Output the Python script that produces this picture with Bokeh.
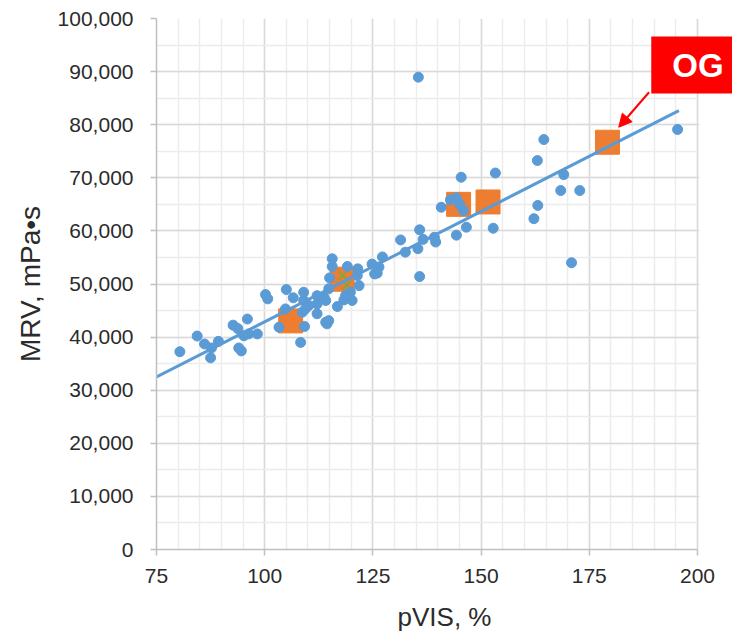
from bokeh.plotting import figure
from bokeh.models import (NumeralTickFormatter, SingleIntervalTicker, Label, Arrow,
                          NormalHead, Range1d, BoxAnnotation)
from bokeh.embed import file_html
from bokeh.resources import INLINE

# ---- data ----
pvis = [80.4, 84.4, 86.1, 87.7, 87.5, 89.3, 92.7, 93.8, 96.0, 94.0, 94.6, 95.2, 96.3, 98.3,
        100.2, 100.7, 103.3, 104.8, 105.0, 106.6, 108.3, 109.2, 109.0, 109.0, 109.4, 108.7,
        110.2, 112.1, 112.1, 112.1, 114.1, 114.8, 114.4, 114.8, 113.7, 114.1, 115.6, 115.6,
        119.1, 121.5, 115.0, 121.4, 121.8, 119.8, 120.2, 118.3, 116.8, 118.7, 124.8, 126.4,
        126.0, 125.4, 127.2, 131.4, 132.5, 135.8, 136.6, 135.4, 139.2, 139.5, 135.8, 140.8,
        142.9, 144.3, 145.1, 145.9, 144.3, 146.6, 152.8, 145.4, 153.3, 164.5, 163.0, 169.1,
        168.4, 172.8, 163.1, 162.2, 170.9, 195.4, 135.5]
mrv = [37250, 40200, 38700, 37950, 36100, 39200, 42250, 41600, 43400, 37950, 37400, 40250,
       40600, 40600, 48000, 47200, 41850, 45300, 48950, 47400, 39000, 42000, 48450, 46900,
       45300, 44700, 45950, 47800, 46250, 44400, 42800, 43100, 42500, 49100, 47500, 46900,
       54750, 53300, 53300, 52850, 51150, 51600, 49700, 48450, 46900, 47000, 45760, 47850,
       53750, 53200, 52050, 51900, 55100, 58300, 56000, 60200, 58400, 56650, 58800, 57900,
       51400, 64450, 65850, 66200, 64950, 63850, 59200, 60700, 60500, 70100, 70900, 77200,
       73250, 70600, 67600, 67600, 64800, 62300, 54000, 79100, 88950]

ref_pvis = [106.0, 117.9, 144.8, 151.6, 179.2]
ref_mrv = [43050, 50900, 65000, 65450, 76700]

x_pvis = [118.0, 119.0]
x_mrv = [51600, 49800]

trend_x = [75.0, 195.7]
trend_y = [32500, 82650]

BLUE = "#5b9bd5"
ORANGE = "#ed7d31"
GREEN = "#70ad47"
TXT = "#2b2b2b"
FONT = "Liberation Sans"

X_MIN, X_MAX = 75, 200
# frame extends past 200 (to the page edge) so the "OG" callout is not clipped
X_VIEW_MAX = X_MIN + (X_MAX - X_MIN) * 576 / 541

p = figure(frame_width=576, frame_height=531, output_backend="svg", toolbar_location=None,
           x_range=Range1d(X_MIN, X_VIEW_MAX), y_range=Range1d(0, 100000),
           min_border_left=156, min_border_right=0, min_border_top=18, min_border_bottom=82)
p.outline_line_color = None
p.background_fill_color = "white"

p.xaxis.ticker = SingleIntervalTicker(interval=25, num_minor_ticks=5)
p.yaxis.ticker = SingleIntervalTicker(interval=10000, num_minor_ticks=2)
p.yaxis.formatter = NumeralTickFormatter(format="0,0")
p.xaxis.bounds = (X_MIN, X_MAX)

for ax in (p.xaxis, p.yaxis):
    ax.axis_line_color = "#bfbfbf"
    ax.axis_line_width = 1.5
    ax.major_tick_line_color = "#bfbfbf"
    ax.major_tick_line_width = 1.5
    ax.major_tick_out = 6
    ax.major_tick_in = 0
    ax.minor_tick_line_color = None
    ax.major_label_text_font = FONT
    ax.major_label_text_font_size = "21px"
    ax.major_label_text_color = TXT
    ax.axis_label_text_font = FONT
    ax.axis_label_text_font_style = "normal"
    ax.axis_label_text_color = TXT

p.xaxis.axis_label = "pVIS, %"
p.yaxis.axis_label = "MRV, mPa•s"
p.xaxis.axis_label_text_font_size = "26px"
p.yaxis.axis_label_text_font_size = "28px"
p.xaxis.major_label_standoff = 13
p.yaxis.major_label_standoff = 17
p.xaxis.axis_label_standoff = 16
p.yaxis.axis_label_standoff = 9

for g in (p.xgrid, p.ygrid):
    g.grid_line_color = "#d9d9d9"
    g.grid_line_width = 1.5
    g.minor_grid_line_color = "#ececec"
    g.minor_grid_line_width = 1.5

# blank out the grid beyond x = 200
p.add_layout(BoxAnnotation(left=X_MAX + 0.4, fill_color="white", fill_alpha=1.0,
                           line_color=None, level="underlay"))

p.scatter(ref_pvis, ref_mrv, marker="square", size=24, fill_color=ORANGE, line_color=ORANGE)
p.scatter(x_pvis, x_mrv, marker="x", size=12, line_color=GREEN, line_width=1.5)
p.scatter(pvis, mrv, marker="circle", size=10, fill_color=BLUE, line_color=BLUE)
p.line(trend_x, trend_y, line_color=BLUE, line_width=3)

p.add_layout(Arrow(end=NormalHead(size=13, fill_color="red", line_color="red"),
                   line_color="red", line_width=2,
                   x_start=188.8, y_start=86110, x_end=181.8, y_end=79520))
p.add_layout(Label(x=200.1, y=91240, text="OG", text_color="white", text_font=FONT,
                   text_font_size="33px", text_font_style="bold", text_align="center",
                   text_baseline="middle", background_fill_color="red",
                   padding=(21, 10)))

open("out.html", "w").write(file_html(p, INLINE))
